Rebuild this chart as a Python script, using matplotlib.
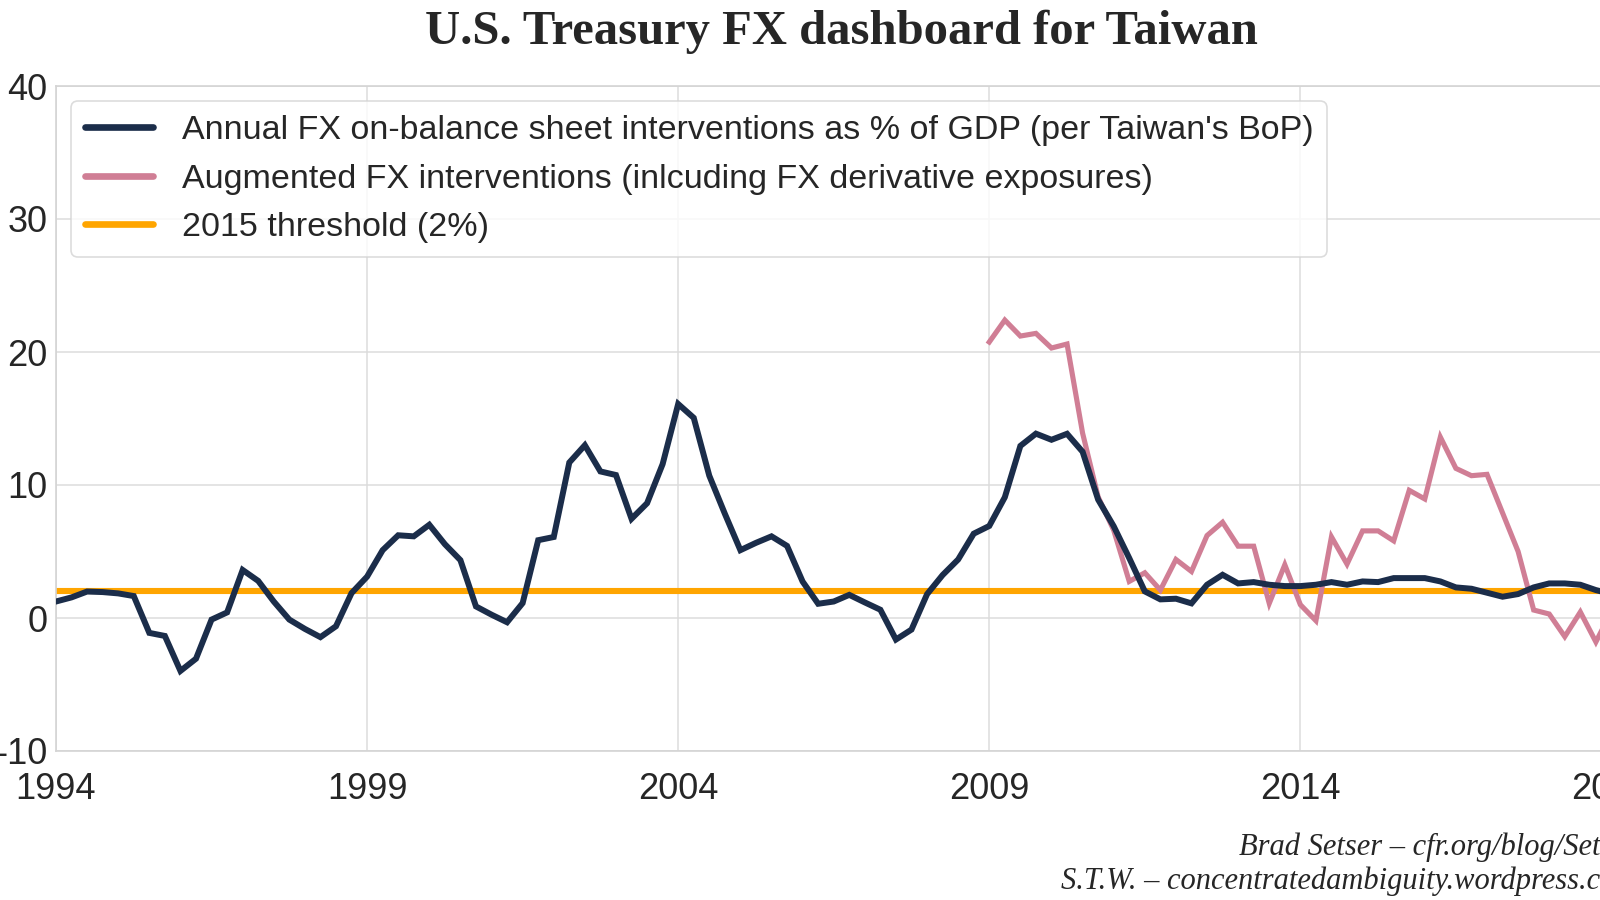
import matplotlib

matplotlib.use("Agg")
import matplotlib.pyplot as plt
import numpy as np
import pandas as pd

# quarterly values, 1994Q1 onwards (% of GDP)
onbalance = [
    1.24, 1.55, 1.99, 1.95, 1.85, 1.65, -1.12, -1.35,
    -3.98, -3.06, -0.12, 0.42, 3.61, 2.79, 1.24, -0.12,
    -0.82, -1.44, -0.62, 1.87, 3.11, 5.10, 6.22, 6.14,
    7.01, 5.55, 4.35, 0.87, 0.25, -0.32, 1.12, 5.85,
    6.09, 11.69, 12.99, 11.02, 10.75, 7.46, 8.63, 11.57,
    16.09, 15.05, 10.70, 7.84, 5.10, 5.65, 6.14, 5.42,
    2.74, 1.07, 1.24, 1.74, 1.17, 0.62, -1.62, -0.87,
    1.79, 3.23, 4.40, 6.34, 6.92, 9.08, 12.94, 13.86,
    13.40, 13.85, 12.50, 8.90, 6.90, 4.50, 2.00, 1.40,
    1.45, 1.10, 2.50, 3.25, 2.60, 2.70, 2.50, 2.40,
    2.40, 2.50, 2.70, 2.50, 2.75, 2.70, 3.00, 3.00,
    3.00, 2.75, 2.30, 2.20, 1.90, 1.60, 1.80, 2.30,
    2.60, 2.60, 2.50, 2.10, 1.80,
]

# augmented series starts 2009Q1
augmented_start = "2009Q1"
augmented = [
    20.75, 22.40, 21.20, 21.40, 20.30, 20.60, 13.90, 9.10,
    6.60, 2.75, 3.40, 2.10, 4.40, 3.50, 6.20, 7.20,
    5.40, 5.40, 1.10, 4.00, 1.00, -0.20, 6.10, 4.05,
    6.55, 6.55, 5.80, 9.60, 8.95, 13.60, 11.25, 10.70,
    10.80, 7.90, 5.00, 0.60, 0.30, -1.40, 0.45, -1.80,
    0.50,
]

threshold = 2.0

year_ticks = [1994, 1999, 2004, 2009, 2014, 2019]
y_ticks = [-10, 0, 10, 20, 30, 40]

labels = [
    "Annual FX on-balance sheet interventions as % of GDP (per Taiwan's BoP)",
    "Augmented FX interventions (inlcuding FX derivative exposures)",
    "2015 threshold (2%)",
]

NAVY = "#1b2d4a"
PINK = "#d07e95"
ORANGE = "#ffa500"


def to_decimal_year(periods):
    return np.array([p.year + (p.quarter - 1) / 4 for p in periods])


q_main = pd.period_range("1994Q1", periods=len(onbalance), freq="Q")
q_aug = pd.period_range(augmented_start, periods=len(augmented), freq="Q")
x_main = to_decimal_year(q_main)
x_aug = to_decimal_year(q_aug)

plt.rcParams["font.family"] = ["Liberation Sans", "DejaVu Sans"]
plt.rcParams["axes.unicode_minus"] = False

fig = plt.figure(figsize=(16, 9), dpi=100)
# axes run past the right edge of the picture, as in the original crop
ax = fig.add_axes([56 / 1600, 149 / 900, 1571 / 1600, 665 / 900])

ax.plot(x_main, onbalance, color=NAVY, lw=4.3, label=labels[0], zorder=4,
        solid_joinstyle="miter")
ax.plot(x_aug, augmented, color=PINK, lw=3.7, label=labels[1], zorder=3,
        solid_joinstyle="miter")
ax.plot(x_main, [threshold] * len(x_main), color=ORANGE, lw=4.4,
        label=labels[2], zorder=2)

ax.set_xlim(1994, 2019.25)
ax.set_ylim(-10, 40)
ax.set_xticks(year_ticks)
ax.set_yticks(y_ticks)
ax.tick_params(axis="both", labelsize=26, length=0, colors="#262626")
ax.tick_params(axis="x", pad=15)
ax.tick_params(axis="y", pad=6)

ax.grid(True, color="#dcdcdc", lw=1.1)
ax.set_axisbelow(True)
for s in ax.spines.values():
    s.set_color("#d4d4d4")
    s.set_linewidth(1.2)

leg = ax.legend(loc="upper left", fontsize=24.5, frameon=True, framealpha=0.8,
                edgecolor="#d4d4d4", handlelength=2.0, handletextpad=0.85,
                borderaxespad=0.45, labelspacing=0.52)
leg.get_frame().set_linewidth(1.2)
for line in leg.get_lines():
    line.set_linewidth(4.8)
    line.set_solid_capstyle("round")
for t in leg.get_texts():
    t.set_color("#262626")

ax.set_title("U.S. Treasury FX dashboard for Taiwan", fontsize=35,
             fontweight="bold", family="Liberation Serif", color="#262626",
             pad=30)

fig.text(1061 / 1600, 1 - 889 / 900,
         "Brad Setser – cfr.org/blog/Setser\n"
         "S.T.W. – concentratedambiguity.wordpress.com",
         ha="left", va="baseline", multialignment="right",
         family="Liberation Serif", style="italic", fontsize=22,
         color="#262626", linespacing=1.2)

fig.savefig("out.png", dpi=100)
